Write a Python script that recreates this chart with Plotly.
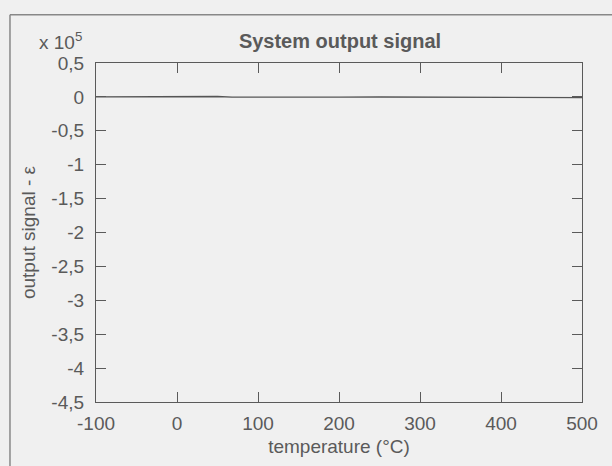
import plotly.graph_objects as go

# Data (output signal in units of 1e5)
temperature = [-100, -50, 0, 50, 68, 100, 150, 200, 250, 300, 350, 400, 450, 500]
output_signal = [0.0, 0.004, 0.008, 0.006, -0.004, -0.006, -0.004, -0.003, -0.002, -0.003, -0.008, -0.006, -0.004, -0.01]

x_ticks = [-100, 0, 100, 200, 300, 400, 500]
x_ticktext = ["-100", "0", "100", "200", "300", "400", "500"]
y_ticks = [0.5, 0, -0.5, -1, -1.5, -2, -2.5, -3, -3.5, -4, -4.5]
y_ticktext = ["0,5", "0", "-0,5", "-1", "-1,5", "-2", "-2,5", "-3", "-3,5", "-4", "-4,5"]

ink = "#5a5a5a"
bg = "#f0f0f0"
font = "Liberation Sans, Arial, sans-serif"

fig = go.Figure()
fig.add_trace(go.Scatter(x=temperature, y=output_signal, mode="lines",
                         line=dict(color="#555555", width=1.4), showlegend=False))

axis_common = dict(showgrid=False, zeroline=False, showline=True, linecolor=ink,
                   linewidth=1.2, mirror="ticks", ticks="inside", ticklen=10,
                   tickcolor=ink, tickwidth=1.2,
                   tickfont=dict(family=font, size=19, color=ink))

fig.update_xaxes(range=[-100, 500], tickvals=x_ticks, ticktext=x_ticktext,
                 ticklabelstandoff=4,
                 title=dict(text="temperature (°C)", font=dict(family=font, size=19, color=ink), standoff=6),
                 **axis_common)
fig.update_yaxes(range=[-4.5, 0.5], tickvals=y_ticks, ticktext=y_ticktext,
                 ticklabelstandoff=7,
                 title=dict(text="output signal - ε", font=dict(family=font, size=19, color=ink), standoff=10),
                 **axis_common)

fig.update_layout(
    width=612, height=466,
    margin=dict(l=96, r=30, t=63, b=64),
    paper_bgcolor=bg, plot_bgcolor=bg,
    title=dict(text="<b>System output signal</b>", x=340 / 612, xanchor="center",
               y=1 - 41 / 466, yanchor="middle",
               font=dict(family=font, size=20, color=ink)),
    annotations=[dict(text="x 10<sup>5</sup>", xref="paper", yref="paper",
                      x=-0.025, y=1.025, xanchor="right", yanchor="bottom", showarrow=False,
                      font=dict(family=font, size=19, color=ink))],
    shapes=[
        dict(type="line", xref="paper", yref="paper", x0=-0.177, x1=1.08, y0=1.142, y1=1.142,
             line=dict(color="#888888", width=1.5)),
        dict(type="line", xref="paper", yref="paper", x0=-0.177, x1=-0.177, y0=1.142, y1=-0.2,
             line=dict(color="#888888", width=1.5)),
    ],
)

fig.write_html("out.html")
